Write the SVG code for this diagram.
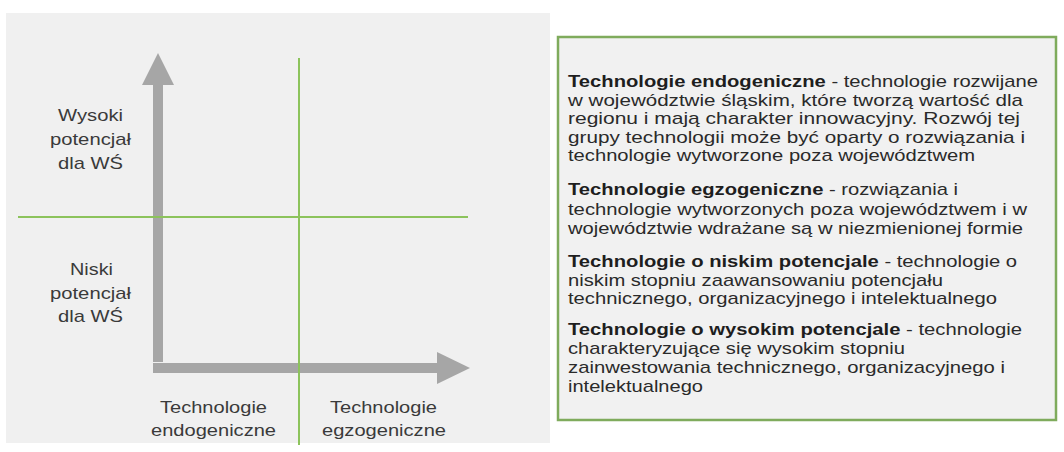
<svg xmlns="http://www.w3.org/2000/svg" width="1064" height="452" viewBox="0 0 1064 452">
  <style>
    .lbl { font-family: "Liberation Sans", Arial, sans-serif; font-size: 17px; fill: #3a3a3a; text-anchor: middle; }
    .def { font-family: "Liberation Sans", Arial, sans-serif; font-size: 17px; fill: #2a2a2a; }
    .def .b { font-weight: bold; fill: #1e1e1e; }
    .axis { fill: #a6a6a6; }
    .grid { stroke: #8cc35c; stroke-width: 2; fill: none; }
  </style>

  <!-- page background -->
  <rect x="0" y="0" width="1064" height="452" fill="#ffffff"/>
  <rect x="6" y="13" width="544" height="430" fill="#f0f0f0"/>

  <!-- axes -->
  <g id="connectors">
    <g id="axis-y">
      <rect class="axis" x="153" y="84" width="10" height="278"/>
      <polygon class="axis" points="158,53 174,85 142,85"/>
    </g>
    <g id="axis-x">
      <rect class="axis" x="153" y="363" width="285" height="10"/>
      <polygon class="axis" points="470,368 437,352 437,384"/>
    </g>
    <!-- quadrant dividers -->
    <line class="grid" x1="18" y1="217" x2="468" y2="217"/>
    <line class="grid" x1="299" y1="58" x2="299" y2="445"/>
  </g>

  <!-- vertical axis labels -->
  <g id="label-high">
    <text class="lbl" x="90.5" y="121" textLength="65" lengthAdjust="spacingAndGlyphs">Wysoki</text>
    <text class="lbl" x="90.5" y="145" textLength="81" lengthAdjust="spacingAndGlyphs">potencjał</text>
    <text class="lbl" x="90.5" y="169" textLength="65" lengthAdjust="spacingAndGlyphs">dla WŚ</text>
  </g>
  <g id="label-low">
    <text class="lbl" x="91.5" y="275" textLength="43" lengthAdjust="spacingAndGlyphs">Niski</text>
    <text class="lbl" x="90.5" y="299" textLength="81" lengthAdjust="spacingAndGlyphs">potencjał</text>
    <text class="lbl" x="90.5" y="322" textLength="65" lengthAdjust="spacingAndGlyphs">dla WŚ</text>
  </g>

  <!-- horizontal axis labels -->
  <g id="label-endo">
    <text class="lbl" x="213.5" y="413" textLength="107" lengthAdjust="spacingAndGlyphs">Technologie</text>
    <text class="lbl" x="213.5" y="436" textLength="125" lengthAdjust="spacingAndGlyphs">endogeniczne</text>
  </g>
  <g id="label-egzo">
    <text class="lbl" x="383.5" y="413" textLength="107" lengthAdjust="spacingAndGlyphs">Technologie</text>
    <text class="lbl" x="384" y="436" textLength="124" lengthAdjust="spacingAndGlyphs">egzogeniczne</text>
  </g>

  <!-- definitions panel -->
  <g id="definitions">
    <rect x="558" y="37" width="498" height="383" fill="#f1f1f1" stroke="#7fab5c" stroke-width="2.5"/>
    <text class="def" x="568" y="87" textLength="470" lengthAdjust="spacingAndGlyphs"><tspan class="b">Technologie endogeniczne</tspan> - technologie rozwijane</text>
    <text class="def" x="568" y="105.5" textLength="455" lengthAdjust="spacingAndGlyphs">w województwie śląskim, które tworzą wartość dla</text>
    <text class="def" x="568" y="124" textLength="452" lengthAdjust="spacingAndGlyphs">regionu i mają charakter innowacyjny. Rozwój tej</text>
    <text class="def" x="568" y="142.5" textLength="457" lengthAdjust="spacingAndGlyphs">grupy technologii może być oparty o rozwiązania i</text>
    <text class="def" x="568" y="161" textLength="407" lengthAdjust="spacingAndGlyphs">technologie wytworzone poza województwem</text>

    <text class="def" x="568" y="195" textLength="390" lengthAdjust="spacingAndGlyphs"><tspan class="b">Technologie egzogeniczne</tspan> - rozwiązania i</text>
    <text class="def" x="568" y="215" textLength="459" lengthAdjust="spacingAndGlyphs">technologie wytworzonych poza województwem i w</text>
    <text class="def" x="568" y="234" textLength="455" lengthAdjust="spacingAndGlyphs">województwie wdrażane są w niezmienionej formie</text>

    <text class="def" x="568" y="267" textLength="449" lengthAdjust="spacingAndGlyphs"><tspan class="b">Technologie o niskim potencjale</tspan> - technologie o</text>
    <text class="def" x="568" y="285.5" textLength="375" lengthAdjust="spacingAndGlyphs">niskim stopniu zaawansowaniu potencjału</text>
    <text class="def" x="568" y="304" textLength="429" lengthAdjust="spacingAndGlyphs">technicznego, organizacyjnego i intelektualnego</text>

    <text class="def" x="568" y="335" textLength="454" lengthAdjust="spacingAndGlyphs"><tspan class="b">Technologie o wysokim potencjale</tspan> - technologie</text>
    <text class="def" x="568" y="354" textLength="337" lengthAdjust="spacingAndGlyphs">charakteryzujące się wysokim stopniu</text>
    <text class="def" x="568" y="373" textLength="437" lengthAdjust="spacingAndGlyphs">zainwestowania technicznego, organizacyjnego i</text>
    <text class="def" x="568" y="392" textLength="135" lengthAdjust="spacingAndGlyphs">intelektualnego</text>
  </g>
</svg>
